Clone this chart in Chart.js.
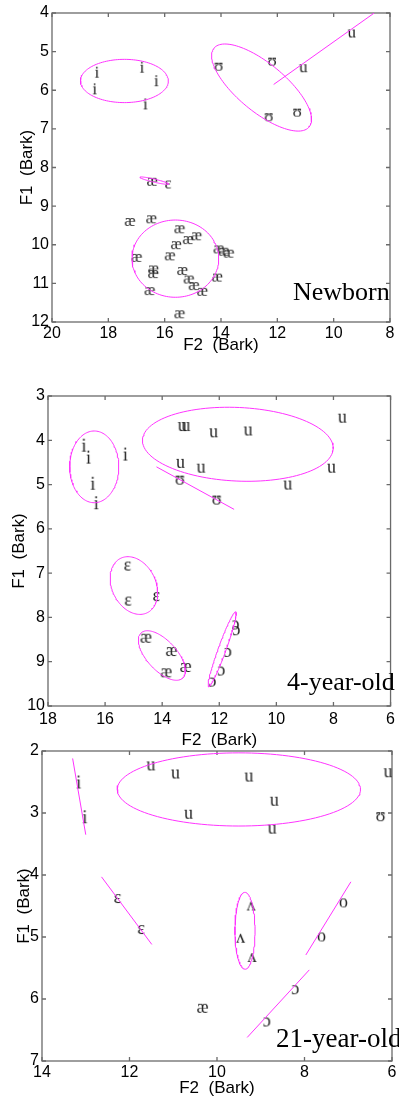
<!DOCTYPE html>
<html>
<head>
<meta charset="utf-8">
<script src="https://cdn.jsdelivr.net/npm/chart.js@4.4.0/dist/chart.umd.min.js"></script>
<style>
  body { margin: 0; background: #fff; width: 399px; height: 1099px; position: relative; overflow: hidden; }
  canvas { position: absolute; left: 0; }
</style>
</head>
<body>
<canvas id="newborn" width="399" height="356" style="top:0"></canvas>
<canvas id="child" width="399" height="400" style="top:360px"></canvas>
<canvas id="adult" width="399" height="364" style="top:735px"></canvas>
<script>
// values are [F2, F1] in Bark

// Newborn
const nbI = [[18.40, 5.52], [18.48, 5.95], [16.80, 5.39], [16.29, 5.74], [16.68, 6.34]];
const nbUpsilon = [[14.09, 5.39], [12.19, 5.26], [12.31, 6.70], [11.30, 6.58]];
const nbU = [[11.07, 5.43], [9.35, 4.53]];
const nbEpsilon = [[15.88, 8.44]];
const nbAe = [[16.45, 8.37], [17.24, 9.41], [16.48, 9.34], [15.48, 9.60], [15.18, 9.88], [14.88, 9.78],
  [15.60, 10.01], [15.82, 10.30], [17.00, 10.34], [16.41, 10.64], [16.41, 10.76], [15.38, 10.68],
  [15.15, 10.90], [14.97, 11.07], [16.54, 11.20], [15.48, 11.80], [14.09, 10.12], [13.91, 10.18],
  [13.73, 10.23], [14.14, 10.85], [14.67, 11.22]];
// ellipses: centre F2, centre F1, then two conjugate half-axes (dF2, dF1)
const nbEllipses = [
  [17.43, 5.76, 1.56, 0, 0, 0.56],
  [12.56, 5.93, -1.69, 1.02, 0.54, 0.48],
  [16.37, 8.34, -0.51, 0.088, 0.012, 0.038],
  [15.62, 10.36, 1.54, 0, 0, 1.0]
];
const nbLines = [[[12.13, 5.85], [8.56, 4.0]]];

// 4-year-old
const kI = [[16.74, 4.11], [16.58, 4.38], [16.43, 4.97], [16.31, 5.41], [15.29, 4.31]];
const kU = [[13.30, 3.69], [13.17, 3.69], [13.36, 4.52], [12.64, 4.63], [12.20, 3.83], [10.99, 3.79],
  [7.69, 3.50], [8.07, 4.63], [9.60, 5.01]];
const kUpsilon = [[13.38, 4.90], [12.09, 5.35]];
const kEpsilon = [[15.21, 6.84], [15.19, 7.63], [14.20, 7.53]];
const kAe = [[14.57, 8.47], [13.68, 8.77], [13.86, 9.25], [13.18, 9.13]];
const kOpen = [[11.43, 8.17], [11.40, 8.30], [11.70, 8.79], [11.93, 9.21], [12.24, 9.46]];
const kEllipses = [
  [16.38, 4.60, 0.86, 0, 0, 0.81],
  [11.35, 4.09, -3.34, 0.10, 0.06, 0.83],
  [14.99, 7.28, -0.48, 0.61, 0.68, 0.23],
  [14.01, 8.86, -0.73, 0.51, 0.38, 0.23],
  [11.90, 8.72, -0.474, -0.846, -0.13, 0.031]
];
const kLines = [[[14.20, 4.60], [11.48, 5.56]]];

// 21-year-old
const aI = [[13.16, 2.50], [13.02, 3.06]];
const aU = [[11.51, 2.24], [10.95, 2.37], [10.65, 3.02], [9.27, 2.42], [8.69, 2.81], [8.74, 3.26], [6.09, 2.35]];
const aUpsilon = [[6.26, 3.06]];
const aEpsilon = [[12.27, 4.38], [11.73, 4.88]];
const aWedge = [[9.22, 4.50], [9.46, 5.02], [9.20, 5.33]];
const aO = [[7.11, 4.45], [7.61, 5.00]];
const aOpen = [[8.21, 5.85], [8.86, 6.37]];
const aAe = [[10.33, 6.15]];
const aEllipses = [
  [9.50, 2.62, 2.78, 0, 0, 0.59],
  [9.36, 4.90, 0.23, 0, 0, 0.62]
];
const aLines = [
  [[13.30, 2.12], [13.00, 3.35]],
  [[12.64, 4.03], [11.49, 5.12]],
  [[6.94, 4.11], [7.97, 5.29]],
  [[7.89, 5.53], [9.31, 6.62]]
];

const MAGENTA = '#ff33ff';
const AXIS = '#6a6a6a';
const SANS = "'Liberation Sans', Arial, sans-serif";
const SERIF = "'Liberation Serif', 'DejaVu Serif', serif";

function glyph(ch, size) {
  const c = document.createElement('canvas');
  const s = Math.ceil(size * 1.6);
  c.width = s; c.height = s;
  const g = c.getContext('2d');
  g.font = size + 'px ' + SERIF;
  g.fillStyle = '#1e1e1e';
  const m = g.measureText(ch);
  const w = m.actualBoundingBoxLeft + m.actualBoundingBoxRight;
  const h = m.actualBoundingBoxAscent + m.actualBoundingBoxDescent;
  g.fillText(ch, s / 2 - w / 2 + m.actualBoundingBoxLeft, s / 2 - h / 2 + m.actualBoundingBoxAscent);
  return c;
}

function pointSet(pts, ch, size) {
  return {
    data: pts.map(p => ({ x: p[0], y: p[1] })),
    pointStyle: glyph(ch, size), pointRadius: 6, showLine: false
  };
}

function ellipseSet(e) {
  const [cx, cy, ux, uy, vx, vy] = e;
  const data = [];
  for (let k = 0; k <= 120; k++) {
    const t = k / 120 * 2 * Math.PI;
    data.push({ x: cx + ux * Math.cos(t) + vx * Math.sin(t), y: cy + uy * Math.cos(t) + vy * Math.sin(t) });
  }
  return { data, showLine: true, pointRadius: 0, borderColor: MAGENTA, borderWidth: 1, tension: 0 };
}

function lineSet(l) {
  return { data: l.map(p => ({ x: p[0], y: p[1] })), showLine: true, pointRadius: 0, borderColor: MAGENTA, borderWidth: 1 };
}

const framePlugin = {
  id: 'frame',
  beforeDatasetsDraw(chart) {
    const { ctx, chartArea: a, scales: { x, y } } = chart;
    ctx.save();
    ctx.strokeStyle = AXIS;
    ctx.lineWidth = 1.3;
    ctx.strokeRect(a.left, a.top, a.right - a.left, a.bottom - a.top);
    ctx.beginPath();
    x.ticks.forEach(t => {
      const px = x.getPixelForValue(t.value);
      ctx.moveTo(px, a.bottom); ctx.lineTo(px, a.bottom - 4);
      ctx.moveTo(px, a.top); ctx.lineTo(px, a.top + 4);
    });
    y.ticks.forEach(t => {
      const py = y.getPixelForValue(t.value);
      ctx.moveTo(a.left, py); ctx.lineTo(a.left + 4, py);
      ctx.moveTo(a.right, py); ctx.lineTo(a.right - 4, py);
    });
    ctx.stroke();
    ctx.restore();
  }
};

const captionPlugin = {
  id: 'caption',
  afterDraw(chart, args, opts) {
    const ctx = chart.ctx;
    ctx.save();
    ctx.font = opts.size + 'px ' + SERIF;
    ctx.fillStyle = '#000';
    ctx.textAlign = 'left';
    ctx.textBaseline = 'alphabetic';
    ctx.fillText(opts.text, opts.x, opts.y);
    ctx.restore();
  }
};

function makePanel(id, p) {
  const cv = document.getElementById(id);
  new Chart(cv, {
    type: 'scatter',
    data: { datasets: p.datasets },
    plugins: [framePlugin, captionPlugin],
    options: {
      responsive: false,
      animation: false,
      events: [],
      layout: { padding: { left: 0, top: p.top, right: cv.width - p.right, bottom: 0 } },
      plugins: {
        legend: { display: false },
        tooltip: { enabled: false },
        caption: p.caption
      },
      scales: {
        x: {
          type: 'linear', reverse: true, min: p.xMin, max: p.xMax,
          ticks: { stepSize: 2, color: '#000', font: { family: SANS, size: 16 }, padding: p.xTickPad, maxRotation: 0, autoSkip: false },
          grid: { display: false, drawTicks: false },
          border: { display: false },
          title: { display: true, text: 'F2  (Bark)', color: '#000', font: { family: SANS, size: 17 }, padding: { top: 0, bottom: p.xTitlePad } },
          afterFit(s) { s.height = cv.height - p.bottom; }
        },
        y: {
          type: 'linear', reverse: true, min: p.yMin, max: p.yMax,
          ticks: { stepSize: 1, color: '#000', font: { family: SANS, size: 16 }, padding: 3 },
          grid: { display: false, drawTicks: false },
          border: { display: false },
          title: { display: true, text: 'F1  (Bark)', color: '#000', font: { family: SANS, size: 17 }, padding: { top: p.yTitlePad, bottom: 0 } },
          afterFit(s) { s.width = p.left; }
        }
      }
    }
  });
}

makePanel('newborn', {
  left: 52, top: 13, right: 390, bottom: 322,
  xMin: 8, xMax: 20, yMin: 4, yMax: 12,
  xTickPad: 2, xTitlePad: 0, yTitlePad: 17,
  caption: { text: 'Newborn', x: 293, y: 300, size: 26 },
  datasets: [
    ...nbEllipses.map(ellipseSet), ...nbLines.map(lineSet),
    pointSet(nbI, 'i', 17), pointSet(nbUpsilon, '\u028A', 17), pointSet(nbU, 'u', 17),
    pointSet(nbEpsilon, '\u025B', 17), pointSet(nbAe, '\u00E6', 17)
  ]
});

makePanel('child', {
  left: 48, top: 36, right: 394, bottom: 346,
  xMin: 6, xMax: 18, yMin: 3, yMax: 10,
  xTickPad: 4, xTitlePad: 9, yTitlePad: 9,
  caption: { text: '4-year-old', x: 287, y: 330, size: 26 },
  datasets: [
    ...kEllipses.map(ellipseSet), ...kLines.map(lineSet),
    pointSet(kI, 'i', 18), pointSet(kU, 'u', 18), pointSet(kUpsilon, '\u028A', 18),
    pointSet(kEpsilon, '\u025B', 18), pointSet(kAe, '\u00E6', 18), pointSet(kOpen, '\u0254', 18)
  ]
});

makePanel('adult', {
  left: 42, top: 16, right: 394, bottom: 326,
  xMin: 6, xMax: 14, yMin: 2, yMax: 7,
  xTickPad: 2, xTitlePad: 0, yTitlePad: 14,
  caption: { text: '21-year-old', x: 276, y: 312, size: 27 },
  datasets: [
    ...aEllipses.map(ellipseSet), ...aLines.map(lineSet),
    pointSet(aI, 'i', 18), pointSet(aU, 'u', 18), pointSet(aUpsilon, '\u028A', 18),
    pointSet(aEpsilon, '\u025B', 18), pointSet(aWedge, '\u028C', 18), pointSet(aO, 'o', 18),
    pointSet(aOpen, '\u0254', 18), pointSet(aAe, '\u00E6', 18)
  ]
});
</script>
</body>
</html>
